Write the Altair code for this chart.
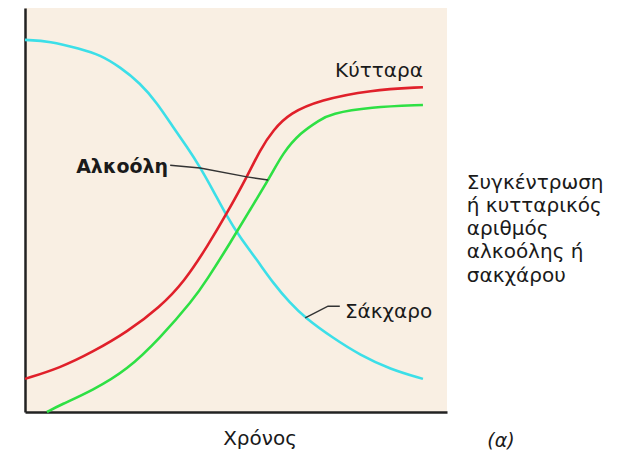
import altair as alt
import pandas as pd

# ---- data (time and level in arbitrary units, 0-100) ----
sugar_t = [0, 5.9, 13.0, 17.8, 22.5, 27.3, 31.3, 35.1, 38.4, 41.5, 44.5, 47.9, 50.9, 55.0, 58.8, 62.8,
           66.4, 73.0, 79.4, 86.5, 94.3]
sugar_v = [92.1, 91.8, 89.9, 88.4, 85.4, 81.4, 76.5, 70.5, 65.6, 60.6, 55.0, 48.3, 43.3, 37.6, 31.9, 27.0,
           23.3, 18.3, 14.1, 10.6, 8.2]

cells_t = [0, 8.3, 16.1, 24.2, 32.0, 37.7, 43.4, 47.9, 52.6, 55.7, 58.8, 62.8, 69.9, 81.8, 94.3]
cells_v = [8.2, 10.9, 14.9, 19.8, 26.0, 32.2, 41.3, 49.3, 58.2, 64.9, 69.8, 74.0, 77.2, 79.7, 80.4]

alcohol_t = [5.2, 8.3, 16.1, 24.2, 32.0, 39.8, 43.1, 48.6, 53.3, 58.1, 61.1, 65.2, 69.9, 72.3, 81.8, 94.3]
alcohol_v = [0, 1.7, 5.4, 10.4, 18.3, 27.7, 32.7, 41.8, 50.0, 58.2, 64.1, 69.1, 72.3, 73.8, 75.5, 76.0]

series_names = ["Σάκχαρο", "Κύτταρα", "Αλκοόλη"]
series_colors = ["#3cdfe8", "#e0202a", "#2ee044"]

# leader lines for labels
leader_alc_t = [34.4, 41.5, 52.6, 57.6]
leader_alc_v = [61.1, 60.4, 58.2, 57.4]
leader_sug_t = [66.4, 71.8, 74.6]
leader_sug_v = [23.3, 26.2, 26.2]

# side label lines
side_lines = ["Συγκέντρωση", "ή κυτταρικός", "αριθμός", "αλκοόλης ή", "σακχάρου"]
side_v = [55.2, 49.5, 43.8, 38.1, 32.2]

FONT = "DejaVu Sans"
TXT = "#1a1a1a"

rows = []
for name, ts, vs in zip(series_names, [sugar_t, cells_t, alcohol_t], [sugar_v, cells_v, alcohol_v]):
    for i, (t, v) in enumerate(zip(ts, vs)):
        rows.append({"series": name, "t": t, "v": v, "i": i})
curves_df = pd.DataFrame(rows)

lrows = []
for name, ts, vs in [("alc", leader_alc_t, leader_alc_v), ("sug", leader_sug_t, leader_sug_v)]:
    for i, (t, v) in enumerate(zip(ts, vs)):
        lrows.append({"leader": name, "t": t, "v": v, "i": i})
leaders_df = pd.DataFrame(lrows)

xs = alt.Scale(domain=[0, 100], nice=False, zero=False)
ys = alt.Scale(domain=[0, 100], nice=False, zero=False)
xax = alt.Axis(title="", labels=False, ticks=False, grid=False, domain=True,
               domainColor="#222222", domainWidth=2.5)
yax = alt.Axis(title="", labels=False, ticks=False, grid=False, domain=True,
               domainColor="#222222", domainWidth=2.5)

curves = alt.Chart(curves_df).mark_line(strokeWidth=2.6, interpolate="basis").encode(
    x=alt.X("t:Q", scale=xs, axis=xax),
    y=alt.Y("v:Q", scale=ys, axis=yax),
    color=alt.Color("series:N", scale=alt.Scale(domain=series_names, range=series_colors), legend=None),
    detail="series:N",
    order="i:Q",
)

leaders = alt.Chart(leaders_df).mark_line(strokeWidth=1.5, color="#333333").encode(
    x=alt.X("t:Q", scale=xs),
    y=alt.Y("v:Q", scale=ys),
    detail="leader:N",
    order="i:Q",
)

def label(df, **kw):
    return alt.Chart(pd.DataFrame(df)).mark_text(font=FONT, color=TXT, **kw).encode(
        x=alt.X("t:Q", scale=xs), y=alt.Y("v:Q", scale=ys), text="s:N")

lab_cells = label({"t": [94.3], "v": [82.9], "s": ["Κύτταρα"]}, align="right", baseline="alphabetic", fontSize=20)
lab_alc = label({"t": [33.9], "v": [59.2], "s": ["Αλκοόλη"]}, align="right", baseline="alphabetic", fontSize=19, fontWeight="bold")
lab_sug = label({"t": [75.8], "v": [23.3], "s": ["Σάκχαρο"]}, align="left", baseline="alphabetic", fontSize=20)
lab_side = label({"t": [104.7] * 5, "v": side_v, "s": side_lines}, align="left", baseline="alphabetic", fontSize=20)
lab_x = label({"t": [55.7], "v": [-8.2], "s": ["Χρόνος"]}, align="center", baseline="alphabetic", fontSize=20)
lab_a = label({"t": [112.8], "v": [-8.7], "s": ["(α)"]}, align="center", baseline="alphabetic", fontSize=19, fontStyle="italic")

chart = alt.layer(curves, leaders, lab_cells, lab_alc, lab_sug, lab_side, lab_x, lab_a).properties(
    width=422, height=404,
    autosize=alt.AutoSizeParams(type="none"),
    padding={"left": 17, "top": 0, "right": 160, "bottom": 39},
).configure_view(fill="#f9efe3", strokeWidth=0)

chart.save("out.html", embed_options={"renderer": "svg", "actions": False})
